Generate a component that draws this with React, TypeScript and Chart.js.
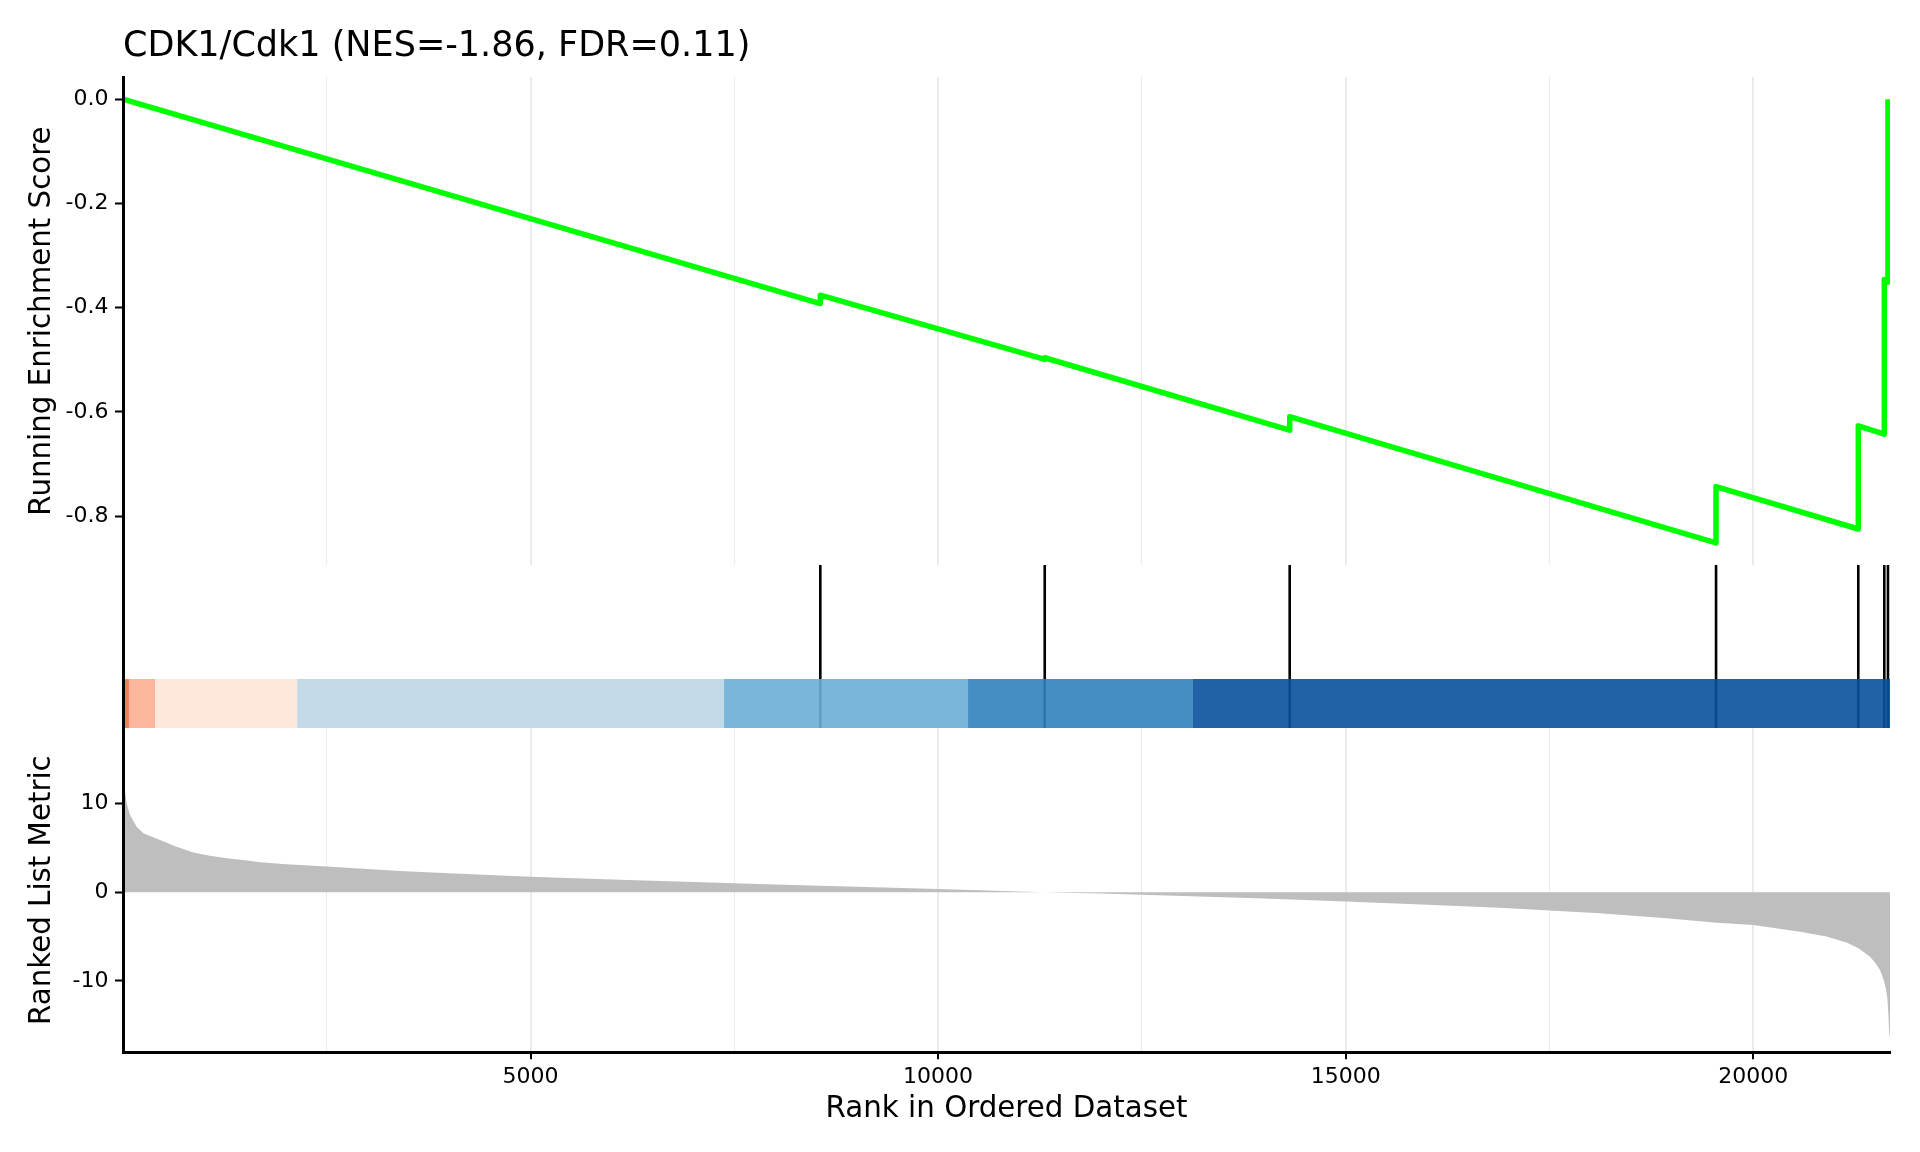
import React, { useEffect, useRef } from "react";
import { Chart, registerables } from "chart.js";

Chart.register(...registerables);

// ---------------- data ----------------
const TITLE = "CDK1/Cdk1 (NES=-1.86, FDR=0.11)";
const N_GENES = 21677;
const X_TICKS = [2500, 5000, 7500, 10000, 12500, 15000, 17500, 20000];
const ES_TICKS = [-0.8, -0.6, -0.4, -0.2, 0];
const METRIC_TICKS = [-10, 0, 10];

const ES_START = 0;
const HIT_RANKS = [8555, 11308, 14313, 19543, 21288, 21607, 21652];
const ES_BEFORE_HIT = [-0.392, -0.499, -0.635, -0.851, -0.8245, -0.6425, -0.351];
const ES_AFTER_HIT = [-0.376, -0.496, -0.609, -0.743, -0.6266, -0.346, 0.0];

const BAND_EDGES = [1, 74, 394, 2137, 7374, 10367, 13127, 21677];
const BAND_COLORS = ["#FB6A4A", "#FCAE91", "#FEE5D9", "#BDD7E7", "#6BAED6", "#3182BD", "#08519C"];

const METRIC_RANKS = [
  1, 17, 46, 87, 169, 250, 455, 650, 864, 1050, 1273, 1500, 1682, 2000, 2500, 3399, 4000, 5000,
  6000, 7000, 8000, 9000, 10000, 11000, 11300, 12000, 13000, 14000, 15000, 16000, 16890, 17500,
  18117, 18935, 19549, 20000, 20573, 20899, 21150, 21290, 21433, 21500, 21556, 21600, 21625,
  21645, 21656, 21665, 21672, 21677,
];
const METRIC_VALUES = [
  13.0, 12.1, 10.0, 8.72, 7.4, 6.65, 5.9, 5.15, 4.5, 4.15, 3.85, 3.6, 3.4, 3.15, 2.9, 2.4, 2.15,
  1.75, 1.45, 1.15, 0.88, 0.62, 0.36, 0.1, 0.0, -0.15, -0.42, -0.7, -1.05, -1.4, -1.75, -2.05,
  -2.37, -2.93, -3.43, -3.69, -4.44, -5.0, -5.7, -6.3, -7.26, -8.0, -8.8, -9.9, -10.8, -12.0,
  -13.6, -15.3, -16.3, -16.3,
];
const METRIC_RANGE = [-18.05, 18.53];

// ---------------- styling ----------------
const FONT = "'DejaVu Sans', 'Liberation Sans', sans-serif";
const GRID = "#EBEBEB";
const AXIS_W = 123;
const PAD_RIGHT = 30;

function withAlpha(hex: string, a: number) {
  const n = parseInt(hex.slice(1), 16);
  return `rgba(${(n >> 16) & 255},${(n >> 8) & 255},${n & 255},${a})`;
}

const isMajor = (v: number) => v % 5000 === 0;

function xScale(kind: "top" | "mid" | "bottom") {
  const base: any = {
    type: "linear",
    min: 1,
    max: N_GENES,
    afterBuildTicks: (s: any) => {
      s.ticks = X_TICKS.map((v) => ({ value: v }));
    },
  };
  if (kind === "mid") {
    return { ...base, display: false };
  }
  if (kind === "top") {
    return {
      ...base,
      afterFit: (s: any) => {
        s.height = 0;
        s.paddingLeft = 0;
        s.paddingRight = 0;
      },
      ticks: { display: false },
      grid: {
        color: GRID,
        lineWidth: (c: any) => (c.tick && isMajor(c.tick.value) ? 2 : 1),
        drawTicks: false,
      },
      border: { display: false },
    };
  }
  return {
    ...base,
    afterFit: (s: any) => {
      s.height = 99.7;
      s.paddingLeft = 0;
      s.paddingRight = 0;
    },
    ticks: {
      autoSkip: false,
      maxRotation: 0,
      padding: 5,
      color: "#000",
      font: { family: FONT, size: 22 },
      callback: (v: any) => (isMajor(Number(v)) ? String(v) : ""),
    },
    grid: {
      color: GRID,
      lineWidth: (c: any) => (c.tick && isMajor(c.tick.value) ? 2 : 1),
      drawTicks: true,
      tickLength: 7,
      tickWidth: 2,
      tickColor: (c: any) => (c.tick && isMajor(c.tick.value) ? "#000" : "rgba(0,0,0,0)"),
    },
    border: { display: true, color: "#000", width: 3, z: 1 },
    title: {
      display: true,
      text: "Rank in Ordered Dataset",
      color: "#000",
      font: { family: FONT, size: 29.3, lineHeight: 1.2 },
      padding: { top: 0, bottom: 25 },
    },
  };
}

function yScale(opts: { min: number; max: number; ticks?: number[]; fmt?: (v: number) => string; title?: string }) {
  const showTicks = !!opts.ticks;
  return {
    type: "linear",
    min: opts.min,
    max: opts.max,
    afterBuildTicks: (s: any) => {
      if (opts.ticks) s.ticks = opts.ticks.map((v) => ({ value: v }));
    },
    afterFit: (s: any) => {
      s.width = AXIS_W;
      s.paddingTop = 0;
      s.paddingBottom = 0;
    },
    ticks: {
      display: showTicks,
      padding: 6.5,
      color: "#000",
      font: { family: FONT, size: 22 },
      callback: (v: any) => (opts.fmt ? opts.fmt(Number(v)) : String(v)),
    },
    grid: {
      display: showTicks,
      drawOnChartArea: false,
      drawTicks: true,
      tickLength: 8,
      tickWidth: 2,
      tickColor: "#000",
    },
    border: { display: true, color: "#000", width: 3, z: 1 },
    title: {
      display: !!opts.title,
      text: opts.title || "",
      color: "#000",
      font: { family: FONT, size: 29.3, lineHeight: 1.2 },
      padding: { top: 25, bottom: 0 },
    },
  };
}

const common = {
  animation: false as const,
  responsive: false,
  maintainAspectRatio: false,
  events: [] as any[],
  layout: { padding: { left: 0, right: PAD_RIGHT, top: 0, bottom: 0 } },
};

export default function App() {
  const topRef = useRef<HTMLCanvasElement>(null);
  const midRef = useRef<HTMLCanvasElement>(null);
  const botRef = useRef<HTMLCanvasElement>(null);

  useEffect(() => {
    // Running enrichment score
    const esPoints: { x: number; y: number }[] = [{ x: 1, y: ES_START }];
    HIT_RANKS.forEach((r, i) => {
      esPoints.push({ x: r, y: ES_BEFORE_HIT[i] });
      esPoints.push({ x: r, y: ES_AFTER_HIT[i] });
    });
    const esLo = Math.min(ES_START, ...ES_BEFORE_HIT, ...ES_AFTER_HIT);
    const esHi = Math.max(ES_START, ...ES_BEFORE_HIT, ...ES_AFTER_HIT);
    const esPad = (esHi - esLo) * 0.05;

    const top = new Chart(topRef.current!, {
      type: "line",
      data: {
        datasets: [
          {
            data: esPoints,
            borderColor: "#00FF00",
            borderWidth: 5.5,
            pointRadius: 0,
            tension: 0,
            fill: false,
            borderJoinStyle: "round",
          } as any,
        ],
      },
      options: {
        ...common,
        plugins: {
          legend: { display: false },
          tooltip: { enabled: false },
          title: {
            display: true,
            text: TITLE,
            align: "start",
            fullSize: false,
            color: "#000",
            font: { family: FONT, size: 35, weight: "normal" as any, lineHeight: 1.2 },
            padding: { top: 26.2, bottom: 8.8 },
          },
        },
        scales: {
          x: xScale("top") as any,
          y: yScale({
            min: esLo - esPad,
            max: esHi + esPad,
            ticks: ES_TICKS,
            fmt: (v) => v.toFixed(1),
            title: "Running Enrichment Score",
          }) as any,
        },
      } as any,
    });

    // Hits + colour band
    const bandSets = BAND_COLORS.map((c, i) => ({
      data: [
        { x: BAND_EDGES[i], y: 0.3 },
        { x: BAND_EDGES[i + 1], y: 0.3 },
      ],
      borderWidth: 0,
      borderColor: "rgba(0,0,0,0)",
      backgroundColor: withAlpha(c, 0.9),
      fill: { value: 0 },
      pointRadius: 0,
      tension: 0,
      order: 0,
    }));
    const hitPoints: { x: number; y: number | null }[] = [];
    HIT_RANKS.forEach((r) => {
      hitPoints.push({ x: r, y: 0 });
      hitPoints.push({ x: r, y: 1 });
      hitPoints.push({ x: r, y: null });
    });
    const mid = new Chart(midRef.current!, {
      type: "line",
      data: {
        datasets: [
          ...bandSets,
          {
            data: hitPoints,
            borderColor: "#000",
            borderWidth: 2.6,
            pointRadius: 0,
            spanGaps: false,
            fill: false,
            order: 5,
          },
        ] as any,
      },
      options: {
        ...common,
        plugins: { legend: { display: false }, tooltip: { enabled: false } },
        scales: {
          x: xScale("mid") as any,
          y: yScale({ min: 0, max: 1 }) as any,
        },
      } as any,
    });

    // Ranked list metric
    const metricPoints = METRIC_RANKS.map((r, i) => ({ x: r, y: METRIC_VALUES[i] }));
    const bot = new Chart(botRef.current!, {
      type: "line",
      data: {
        datasets: [
          {
            data: metricPoints,
            borderWidth: 0,
            borderColor: "rgba(0,0,0,0)",
            backgroundColor: "#BEBEBE",
            fill: "origin",
            pointRadius: 0,
            tension: 0,
          } as any,
        ],
      },
      options: {
        ...common,
        plugins: { legend: { display: false }, tooltip: { enabled: false } },
        scales: {
          x: xScale("bottom") as any,
          y: yScale({
            min: METRIC_RANGE[0],
            max: METRIC_RANGE[1],
            ticks: METRIC_TICKS,
            fmt: (v) => String(v),
            title: "Ranked List Metric",
          }) as any,
        },
      } as any,
    });

    return () => {
      top.destroy();
      mid.destroy();
      bot.destroy();
    };
  }, []);

  const cv = (top: number, h: number): React.CSSProperties => ({
    position: "absolute",
    left: 0,
    top,
    width: 1920,
    height: h,
    display: "block",
  });

  return (
    <div
      style={{
        position: "absolute",
        left: 0,
        top: 0,
        width: 1920,
        height: 1152,
        background: "#fff",
        overflow: "hidden",
      }}
    >
      <canvas ref={topRef} width={1920} height={565} style={cv(0, 565)} />
      <canvas ref={midRef} width={1920} height={163} style={cv(565, 163)} />
      <canvas ref={botRef} width={1920} height={424} style={cv(728, 424)} />
    </div>
  );
}
